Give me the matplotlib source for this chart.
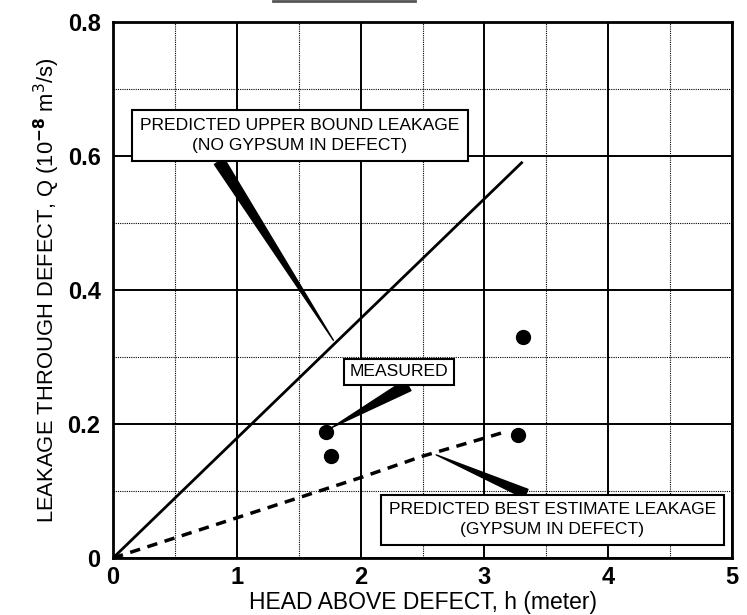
import numpy as np
import matplotlib
matplotlib.use("Agg")
import matplotlib.pyplot as plt
from matplotlib.lines import Line2D

plt.rcParams['font.family'] = ['Liberation Sans', 'DejaVu Sans']

# upper bound prediction (no gypsum)
upper_h = [0.0, 3.30]
upper_q = [0.0, 0.59]

# best estimate prediction (gypsum in defect)
best_h = [0.0, 0.5, 1.0, 1.5, 2.0, 2.5, 3.0, 3.18]
best_q = [0.0, 0.03, 0.06, 0.09, 0.12, 0.152, 0.179, 0.189]

# measured points
meas_h = [1.72, 1.76, 3.31, 3.27]
meas_q = [0.188, 0.152, 0.33, 0.184]

xticks = [0, 1, 2, 3, 4, 5]
yticks = [0, 0.2, 0.4, 0.6, 0.8]
ytick_labels = ['0', '0.2', '0.4', '0.6', '0.8']

fig = plt.figure(figsize=(7.47, 6.15), dpi=100)
ax = fig.add_axes([0.1513, 0.0927, 0.8287, 0.8713])

ax.set_xlim(0, 5)
ax.set_ylim(0, 0.8)

# grid
ax.set_xticks(xticks)
ax.set_yticks(yticks)
ax.set_xticks(np.arange(0.5, 5, 1.0), minor=True)
ax.set_yticks(np.arange(0.1, 0.8, 0.2), minor=True)
ax.grid(True, which='major', color='black', lw=1.4)
ax.grid(True, which='minor', color='black', lw=0.8, linestyle=(0, (1, 1)))
ax.set_axisbelow(True)
ax.tick_params(which='both', length=0)
ax.tick_params(axis='x', pad=6)
ax.tick_params(axis='y', pad=9)
ax.set_xticklabels([str(t) for t in xticks], fontsize=17, fontweight='bold')
ax.set_yticklabels(ytick_labels, fontsize=17, fontweight='bold')
for s in ax.spines.values():
    s.set_linewidth(2)

ax.plot(upper_h, upper_q, color='black', lw=2)
ax.plot(best_h, best_q, color='black', lw=2.5, dashes=(3, 2.2))
ax.plot(meas_h, meas_q, 'o', color='black', ms=10)

ax.set_xlabel('HEAD ABOVE DEFECT, h (meter)', fontsize=16.5, labelpad=1)
ax.set_ylabel(r'LEAKAGE THROUGH DEFECT, Q (10$^{\mathbf{-8}}$ m$^3$/s)', fontsize=15.8, labelpad=4)

box = dict(boxstyle='square,pad=0.45', fc='white', ec='black', lw=1.5)
box_small = dict(boxstyle='square,pad=0.3', fc='white', ec='black', lw=1.5)

ax.annotate('PREDICTED UPPER BOUND LEAKAGE\n(NO GYPSUM IN DEFECT)',
            xy=(1.78, 0.325), xytext=(1.51, 0.631), textcoords='data',
            ha='center', va='center', fontsize=12.6, linespacing=1.4, bbox=box,
            arrowprops=dict(arrowstyle='wedge,tail_width=0.65', fc='black', ec='black',
                            relpos=(0.23, 0), shrinkA=0, shrinkB=0))

ax.annotate('MEASURED',
            xy=(1.77, 0.195), xytext=(2.31, 0.278), textcoords='data',
            ha='center', va='center', fontsize=12.6, bbox=box_small,
            arrowprops=dict(arrowstyle='wedge,tail_width=0.7', fc='black', ec='black',
                            relpos=(0.7, 0), shrinkA=0, shrinkB=0))

ax.annotate('PREDICTED BEST ESTIMATE LEAKAGE\n(GYPSUM IN DEFECT)',
            xy=(2.61, 0.154), xytext=(3.55, 0.057), textcoords='data',
            ha='center', va='center', fontsize=12.6, linespacing=1.4, bbox=box,
            arrowprops=dict(arrowstyle='wedge,tail_width=0.55', fc='black', ec='black',
                            relpos=(0.48, 1), shrinkA=0, shrinkB=0))

# scan artifact line at the top
fig.add_artist(Line2D([273 / 747, 415 / 747], [1 - 1 / 615, 1 - 1 / 615],
                      transform=fig.transFigure, color='#555555', lw=2))

fig.savefig('out.png', dpi=100)
